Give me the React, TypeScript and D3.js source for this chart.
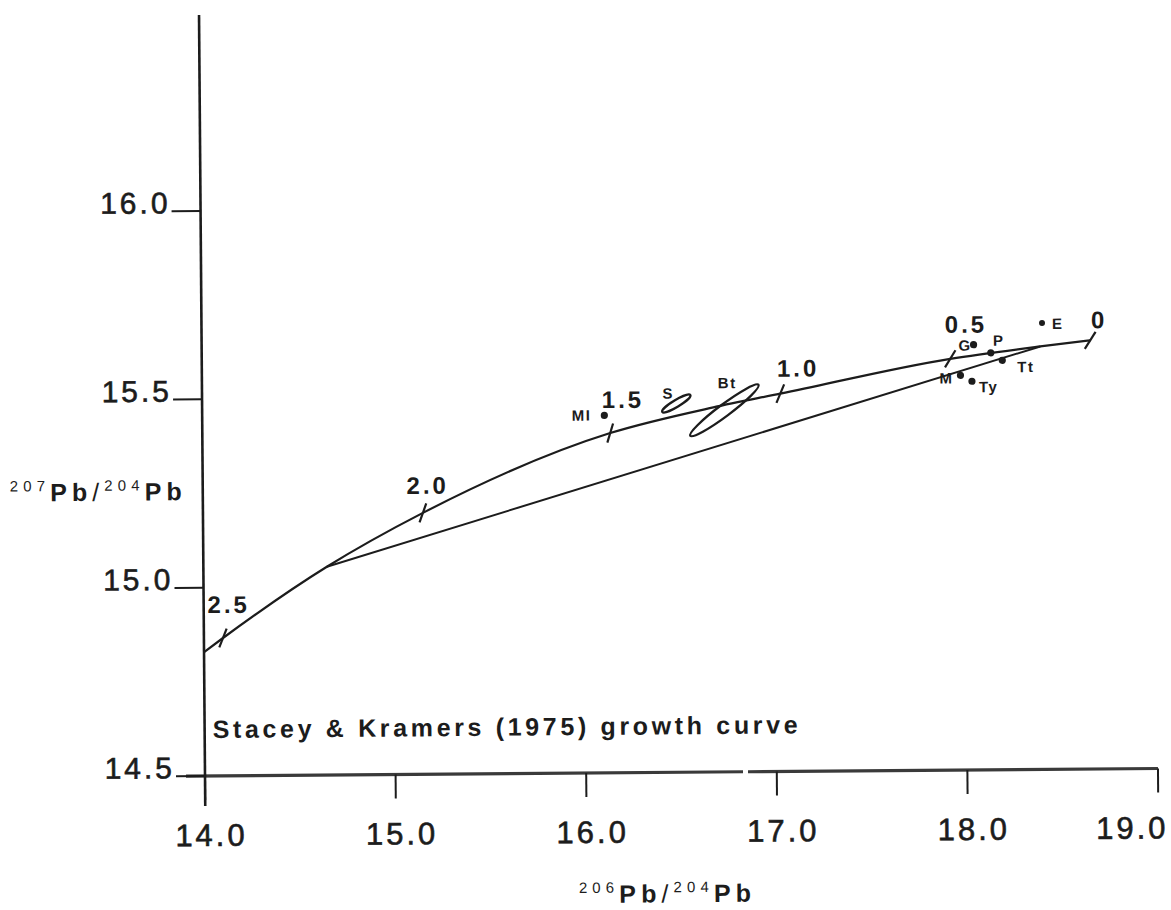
import React from "react";
import { scaleLinear, line, curveMonotoneX } from "d3";

// growth curve (206Pb/204Pb, 207Pb/204Pb)
const curvePb206 = [14.0, 14.1, 14.648, 15.154, 16.14, 16.682, 17.034, 17.927, 18.4, 18.662];
const curvePb207 = [14.829, 14.866, 15.053, 15.194, 15.402, 15.468, 15.503, 15.592, 15.623, 15.638];

// age marks on the curve (Ga)
const ageLabels = ["2.5", "2.0", "1.5", "1.0", "0.5", "0"];
const agePb206 = [14.1, 15.154, 16.14, 17.034, 17.927, 18.662];
const agePb207 = [14.866, 15.194, 15.402, 15.503, 15.592, 15.638];

// straight line joining the curve near 2.3 Ga and 0.2 Ga
const isochronPb206 = [14.648, 18.4];
const isochronPb207 = [15.053, 15.623];

// samples drawn as dots
const sampleNames = ["MI", "E", "G", "P", "Tt", "M", "Ty"];
const samplePb206 = [16.11, 18.41, 18.05, 18.14, 18.2, 17.98, 18.04];
const samplePb207 = [15.449, 15.685, 15.629, 15.607, 15.587, 15.548, 15.532];

// samples drawn as error ellipses: centre, end of long axis, short/long ratio
const ellipseNames = ["S", "Bt"];
const ellipsePb206 = [16.488, 16.74];
const ellipsePb207 = [15.479, 15.46];
const ellipseEndPb206 = [16.562, 16.92];
const ellipseEndPb207 = [15.501, 15.527];
const ellipseRatio = [0.21, 0.14];

const xTicks = [14, 15, 16, 17, 18, 19];
const yTicks = [14.5, 15.0, 15.5, 16.0];

const W = 1171;
const H = 910;
const font = "'Liberation Sans', Arial, Helvetica, sans-serif";
const ink = "#1c1c1c";

// label placement (pixels, relative to the mark)
const ageTickAngle = [68, 70, 73, 67, 58, 57];
const ageLabelOffset = [[6, -25], [5, -19], [13, -25], [18, -17], [16, -26], [9, -12]];
const sampleLabelOffset: Record<string, [number, number, string]> = {
  MI: [-13, 5, "end"],
  E: [10, 6, "start"],
  G: [-2, 6, "end"],
  P: [8, -7, "middle"],
  Tt: [15, 12, "start"],
  M: [-7, 8, "end"],
  Ty: [7, 11, "start"],
};
const ellipseLabelOffset = [[-8, -5], [3, -22]];

export default function App() {
  const x = scaleLinear().domain([14, 19]).range([205, 1158]);
  const y = scaleLinear().domain([14.5, 16]).range([776, 211]);

  const curvePath = line<number>()
    .x(i => x(curvePb206[i]))
    .y(i => y(curvePb207[i]))
    .curve(curveMonotoneX)(curvePb206.map((_, i) => i));

  const isoPath = line<number>()
    .x(i => x(isochronPb206[i]))
    .y(i => y(isochronPb207[i]))(isochronPb206.map((_, i) => i));

  const ageMarks = ageLabels.map((lab, i) => {
    const cx = x(agePb206[i]);
    const cy = y(agePb207[i]);
    const a = (ageTickAngle[i] * Math.PI) / 180;
    const h = 10;
    return (
      <g key={lab}>
        <line
          x1={cx - h * Math.cos(a)}
          y1={cy + h * Math.sin(a)}
          x2={cx + h * Math.cos(a)}
          y2={cy - h * Math.sin(a)}
          stroke={ink}
          strokeWidth={2.2}
        />
        <text
          x={cx + ageLabelOffset[i][0]}
          y={cy + ageLabelOffset[i][1]}
          textAnchor="middle"
          fontSize={24}
          fontWeight="bold"
          letterSpacing={3}
          fill={ink}
        >
          {lab}
        </text>
      </g>
    );
  });

  const dots = sampleNames.map((name, i) => {
    const cx = x(samplePb206[i]);
    const cy = y(samplePb207[i]);
    const [dx, dy, anchor] = sampleLabelOffset[name];
    return (
      <g key={name}>
        <circle cx={cx} cy={cy} r={name === "E" ? 3 : 3.6} fill={ink} />
        <text
          x={cx + dx}
          y={cy + dy}
          textAnchor={anchor as any}
          fontSize={15}
          fontWeight="bold"
          letterSpacing={1.5}
          fill={ink}
        >
          {name}
        </text>
      </g>
    );
  });

  const ellipses = ellipseNames.map((name, i) => {
    const cx = x(ellipsePb206[i]);
    const cy = y(ellipsePb207[i]);
    const ex = x(ellipseEndPb206[i]) - cx;
    const ey = y(ellipseEndPb207[i]) - cy;
    const rx = Math.hypot(ex, ey);
    const ang = (Math.atan2(ey, ex) * 180) / Math.PI;
    return (
      <g key={name}>
        <ellipse
          cx={cx}
          cy={cy}
          rx={rx}
          ry={rx * ellipseRatio[i]}
          transform={`rotate(${ang} ${cx} ${cy})`}
          fill="none"
          stroke={ink}
          strokeWidth={2.3}
        />
        <text
          x={cx + ellipseLabelOffset[i][0]}
          y={cy + ellipseLabelOffset[i][1]}
          textAnchor="middle"
          fontSize={15}
          fontWeight="bold"
          letterSpacing={1.5}
          fill={ink}
        >
          {name}
        </text>
      </g>
    );
  });

  const x0 = x(14);
  const yBase = y(14.5);

  const xAxis = (
    <g>
      <line x1={186} y1={yBase} x2={743} y2={yBase} stroke="#3a3a3a" strokeWidth={3.2} />
      <line x1={748} y1={yBase} x2={x(19)} y2={yBase} stroke="#3a3a3a" strokeWidth={3.2} />
      {xTicks.map((t, i) => (
        <g key={t}>
          <line x1={x(t)} y1={yBase} x2={x(t)} y2={yBase + 24} stroke={ink} strokeWidth={2} />
          <text
            x={i === xTicks.length - 1 ? 1168 : x(t) + 6}
            y={846}
            textAnchor={i === xTicks.length - 1 ? "end" : "middle"}
            fontSize={31}
            letterSpacing={3}
            fill={ink}
            stroke={ink}
            strokeWidth={0.6}
          >
            {t.toFixed(1)}
          </text>
        </g>
      ))}
    </g>
  );

  const yAxis = (
    <g>
      <line x1={x0} y1={15} x2={x0} y2={806} stroke={ink} strokeWidth={2.6} />
      {yTicks.map(t => (
        <g key={t}>
          <line x1={176} y1={y(t)} x2={x0} y2={y(t)} stroke={ink} strokeWidth={2} />
          <text
            x={175}
            y={y(t) + 2}
            textAnchor="end"
            fontSize={30}
            letterSpacing={3}
            fill={ink}
            stroke={ink}
            strokeWidth={0.6}
          >
            {t.toFixed(1)}
          </text>
        </g>
      ))}
    </g>
  );

  const ratioTitle = (num: string, px: number, py: number) => (
    <text x={px} y={py} textLength={172} lengthAdjust="spacing" fill={ink}>
      <tspan fontSize={15} dy={-10}>{num}</tspan>
      <tspan fontSize={25} fontWeight="bold" dy={10}>Pb</tspan>
      <tspan fontSize={25}>/</tspan>
      <tspan fontSize={15} dy={-10}>204</tspan>
      <tspan fontSize={25} fontWeight="bold" dy={10}>Pb</tspan>
    </text>
  );

  return (
    <svg
      width={W}
      height={H}
      viewBox={`0 0 ${W} ${H}`}
      style={{ position: "absolute", left: 0, top: 0, background: "#ffffff" }}
      fontFamily={font}
    >
      <rect x={0} y={0} width={W} height={H} fill="#ffffff" />
      <g transform={`rotate(-0.45 ${x0} ${yBase})`}>
        {xAxis}
        {yAxis}
        <path d={curvePath ?? ""} fill="none" stroke={ink} strokeWidth={2.2} />
        <path d={isoPath ?? ""} fill="none" stroke={ink} strokeWidth={2} />
        {ageMarks}
        {ellipses}
        {dots}
        <text x={213} y={738} textLength={585} lengthAdjust="spacing" fontSize={25} fontWeight="bold" fill={ink}>
          Stacey &amp; Kramers (1975) growth curve
        </text>
        {ratioTitle("207", 12, 500)}
        {ratioTitle("206", 578, 906)}
      </g>
    </svg>
  );
}
